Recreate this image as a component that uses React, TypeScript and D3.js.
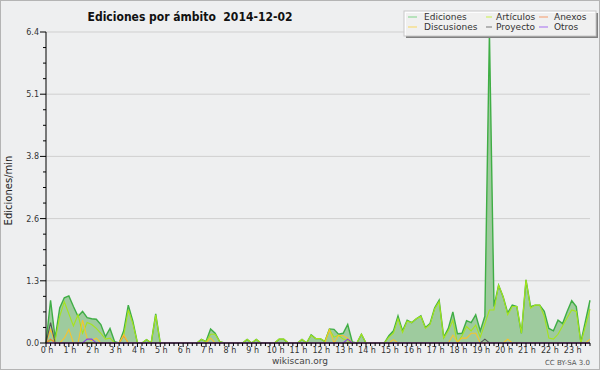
import React from "react";
import * as d3 from "d3";

const title = "Ediciones por ámbito  2014-12-02";
const yTitle = "Ediciones/min";
const yMax = 6.4;
const hourLabels = ["0 h","1 h","2 h","3 h","4 h","5 h","6 h","7 h","8 h","9 h","10 h","11 h","12 h","13 h","14 h","15 h","16 h","17 h","18 h","19 h","20 h","21 h","22 h","23 h"];
const pointsPerHour = 5;

const ediciones = [
  0,0.88,0.1,0.72,0.93, 0.97,0.75,0.55,0.65,0.52, 0.5,0.49,0.38,0.13,0.3, 0.03,0,0.25,0.78,0.45,
  0,0,0.07,0,0.6, 0,0,0,0,0, 0,0,0,0,0.075, 0.03,0.29,0.2,0.03,0,
  0,0,0,0,0.075, 0,0.075,0,0,0, 0,0.08,0.08,0,0, 0,0.075,0,0.17,0.09,
  0.09,0.03,0.29,0.28,0.18, 0.2,0.38,0.02,0,0.18, 0,0,0,0,0, 0.15,0.25,0.56,0.25,0.47,
  0.42,0.5,0.56,0.32,0.4, 0.72,0.88,0.12,0.3,0.64, 0.19,0.2,0.46,0.42,0.58, 0.25,0.55,6.4,0.75,1.19,
  0.95,0.62,0.78,0.75,0.2, 1.3,0.75,0.78,0.78,0.65, 0.3,0.25,0.47,0.4,0.65, 0.87,0.75,0.02,0.45,0.88
];
const articulos = [
  0,0.05,0.05,0.55,0.85, 0.6,0.35,0.58,0.2,0.42, 0.38,0.3,0.2,0.08,0.1, 0,0,0.15,0.68,0.4,
  0,0,0.07,0,0.58, 0,0,0,0,0, 0,0,0,0,0.075, 0.02,0.18,0.18,0.03,0,
  0,0,0,0,0.075, 0,0.075,0,0,0, 0,0.08,0.08,0,0, 0,0.075,0,0.16,0.09,
  0.09,0.03,0.28,0.12,0.16, 0.08,0.05,0,0,0.18, 0,0,0,0,0, 0.12,0.2,0.5,0.22,0.45,
  0.42,0.5,0.55,0.3,0.38, 0.7,0.85,0.1,0.25,0.47, 0,0.15,0.34,0.25,0.37, 0.12,0.4,0.68,0.68,1.19,
  0.95,0.58,0.75,0.75,0.2, 1.3,0.72,0.78,0.78,0.55, 0.1,0.08,0.18,0.35,0.52, 0.68,0.65,0,0.35,0.7
];
const anexos = [
  0,0.08,0,0,0, 0,0,0,0,0, 0,0,0,0,0, 0,0,0.15,0,0,
  0,0,0,0,0, 0,0,0,0,0, 0,0,0,0,0, 0,0,0,0,0,
  0,0,0,0,0, 0,0,0,0,0, 0,0,0,0,0, 0,0,0,0,0,
  0,0,0,0,0, 0,0,0,0,0, 0,0,0,0,0, 0,0,0,0,0,
  0,0,0,0,0, 0,0,0,0,0, 0,0,0,0,0, 0,0,0,0,0,
  0,0,0,0,0, 0,0,0,0,0, 0,0,0,0,0, 0,0,0,0,0
];
const discusiones = [
  0,0.28,0,0,0.1, 0.28,0,0,0.47,0.1, 0.05,0.1,0,0,0, 0,0,0.17,0,0,
  0,0,0,0,0, 0,0,0,0,0, 0,0,0,0,0, 0,0.1,0,0,0,
  0,0,0,0,0, 0,0,0,0,0, 0,0,0,0,0, 0,0,0,0,0,
  0,0,0.27,0,0.16, 0.15,0.1,0,0,0, 0,0,0,0,0, 0,0.07,0,0,0,
  0,0,0,0,0, 0,0,0,0,0.16, 0.02,0.1,0.1,0.2,0.2, 0,0,0,0,0,
  0,0.08,0,0,0, 0,0,0,0,0, 0,0,0,0,0, 0,0,0,0,0.08
];
const proyecto = [
  0,0.42,0,0,0, 0,0,0,0,0, 0,0,0,0,0, 0,0,0,0,0,
  0,0,0,0,0, 0,0,0,0,0, 0,0,0,0,0, 0,0,0,0,0,
  0,0,0,0,0, 0,0,0,0,0, 0,0,0,0,0, 0,0,0,0,0,
  0,0,0,0,0, 0,0,0,0,0, 0,0,0,0,0, 0,0,0,0,0,
  0,0,0,0,0, 0,0,0,0,0, 0,0,0,0,0, 0,0.08,0,0,0,
  0,0,0,0,0, 0,0,0,0,0, 0,0,0,0,0, 0,0,0,0,0
];
const otros = [
  0,0,0,0,0, 0,0,0,0,0.08, 0.08,0,0,0,0, 0,0,0,0,0,
  0,0,0,0,0, 0,0,0,0,0, 0,0,0,0,0, 0,0,0,0,0,
  0,0,0,0,0, 0,0,0,0,0, 0,0,0,0,0, 0,0,0,0,0,
  0,0,0,0,0, 0,0.08,0,0,0, 0,0,0,0,0, 0,0,0,0,0,
  0,0,0,0,0, 0,0,0,0,0, 0,0,0,0,0, 0,0,0,0,0,
  0,0,0,0,0, 0,0,0,0,0, 0,0,0,0,0, 0,0,0,0,0
];

const seriesNames = ["Ediciones", "Artículos", "Anexos", "Discusiones", "Proyecto", "Otros"];
const seriesColors = ["#3fae45", "#a6e41c", "#f47a3c", "#f7c42c", "#555555", "#8a3ce8"];
const legendColors = ["#7fd487", "#c8ef4a", "#f59a6a", "#f9d75e", "#777777", "#a56cf0"];

export default function App() {
  const W = 600, H = 370;
  const left = 46, right = 590, top = 32, bottom = 343;
  const n = ediciones.length;
  const x = d3.scaleLinear().domain([0, n - 1]).range([left, right]);
  const y = d3.scaleLinear().domain([0, yMax]).range([bottom, top]);
  const line = d3.line<number>().x((_, i) => x(i)).y(d => y(d));
  const area = d3.area<number>().x((_, i) => x(i)).y0(bottom).y1(d => y(d));
  const yTicks = d3.range(6).map(k => (yMax * k) / 5);
  const yMinor = d3.range(21).map(k => (yMax * k) / 20);
  const others = [articulos, anexos, discusiones, proyecto, otros];
  const font = "'DejaVu Sans', sans-serif";

  const legendX = 404, legendY = 11, legendW = 192, legendH = 25;
  const lineX = [408, 486, 539];
  const lineLen = [9, 6, 9];
  const textX = [424, 496, 554];
  const rowY = [legendY + 9, legendY + 19];
  const legendOrder = [[0, 1, 2], [3, 4, 5]];

  return (
    <svg width={W} height={H} style={{ position: "absolute", left: 0, top: 0 }} fontFamily={font}>
      <rect x={0} y={0} width={W} height={H} fill="#eeeff0" />
      <rect x={0.5} y={0.5} width={W - 1} height={H - 1} fill="none" stroke="#b4b4b4" />
      {yTicks.slice(1).map((t, k) => (
        <line key={"g" + k} x1={left} x2={right} y1={y(t)} y2={y(t)} stroke="#cfcfcf" strokeWidth={1} />
      ))}
      <path d={area(ediciones) || ""} fill="#9ecb9e" />
      <path d={line(ediciones) || ""} fill="none" stroke={seriesColors[0]} strokeWidth={1.4} />
      {others.map((s, k) => (
        <path key={"s" + k} d={line(s) || ""} fill="none" stroke={seriesColors[k + 1]} strokeWidth={1.1} />
      ))}
      <line x1={left} x2={left} y1={top} y2={bottom} stroke="#000" />
      <line x1={left} x2={right} y1={bottom} y2={bottom} stroke="#000" />
      {yMinor.map((t, k) => (
        <line key={"ym" + k} x1={k % 4 === 0 ? left - 6 : left - 3} x2={left} y1={y(t)} y2={y(t)} stroke="#000" />
      ))}
      {yTicks.map((t, k) => (
        <text key={"yl" + k} x={left - 7} y={y(t) + 3} fontSize={8} textAnchor="end" fill="#333">
          {t.toFixed(1)}
        </text>
      ))}
      {d3.range(n).map(i => (
        <line key={"xt" + i} x1={x(i)} x2={x(i)} y1={bottom} y2={bottom + (i % pointsPerHour === 0 ? 4 : 3)} stroke="#000" />
      ))}
      {hourLabels.map((lab, h) => (
        <text key={"xl" + h} x={x(h * pointsPerHour) + 1} y={bottom + 10} fontSize={8} textAnchor="middle" fill="#333">
          {lab}
        </text>
      ))}
      <text transform={`translate(12,${(top + bottom) / 2 + 3}) rotate(-90)`} fontSize={10} textAnchor="middle" fill="#222">
        {yTitle}
      </text>
      <text x={190} y={21} fontSize={12} fontWeight="bold" textAnchor="middle" fill="#111" style={{ whiteSpace: "pre" }} fontFamily="'DejaVu Sans Condensed', 'DejaVu Sans', sans-serif">
        {title}
      </text>
      <text x={300} y={364} fontSize={9} textAnchor="middle" fill="#444">wikiscan.org</text>
      <text x={590} y={365} fontSize={7} textAnchor="end" fill="#555">CC BY-SA 3.0</text>
      <rect x={legendX + 2} y={legendY + 2} width={legendW} height={legendH} fill="#808080" />
      <rect x={legendX} y={legendY} width={legendW} height={legendH} fill="#ffffff" fillOpacity={0.88} stroke="#c8c8c8" />
      {legendOrder.map((row, r) =>
        row.map((si, c) => (
          <g key={"lg" + si}>
            <line x1={lineX[c]} x2={lineX[c] + lineLen[c]} y1={rowY[r] - 3} y2={rowY[r] - 3} stroke={legendColors[si]} strokeWidth={1} />
            <text x={textX[c]} y={rowY[r]} fontSize={9} fill="#333">{seriesNames[si]}</text>
          </g>
        ))
      )}
    </svg>
  );
}
